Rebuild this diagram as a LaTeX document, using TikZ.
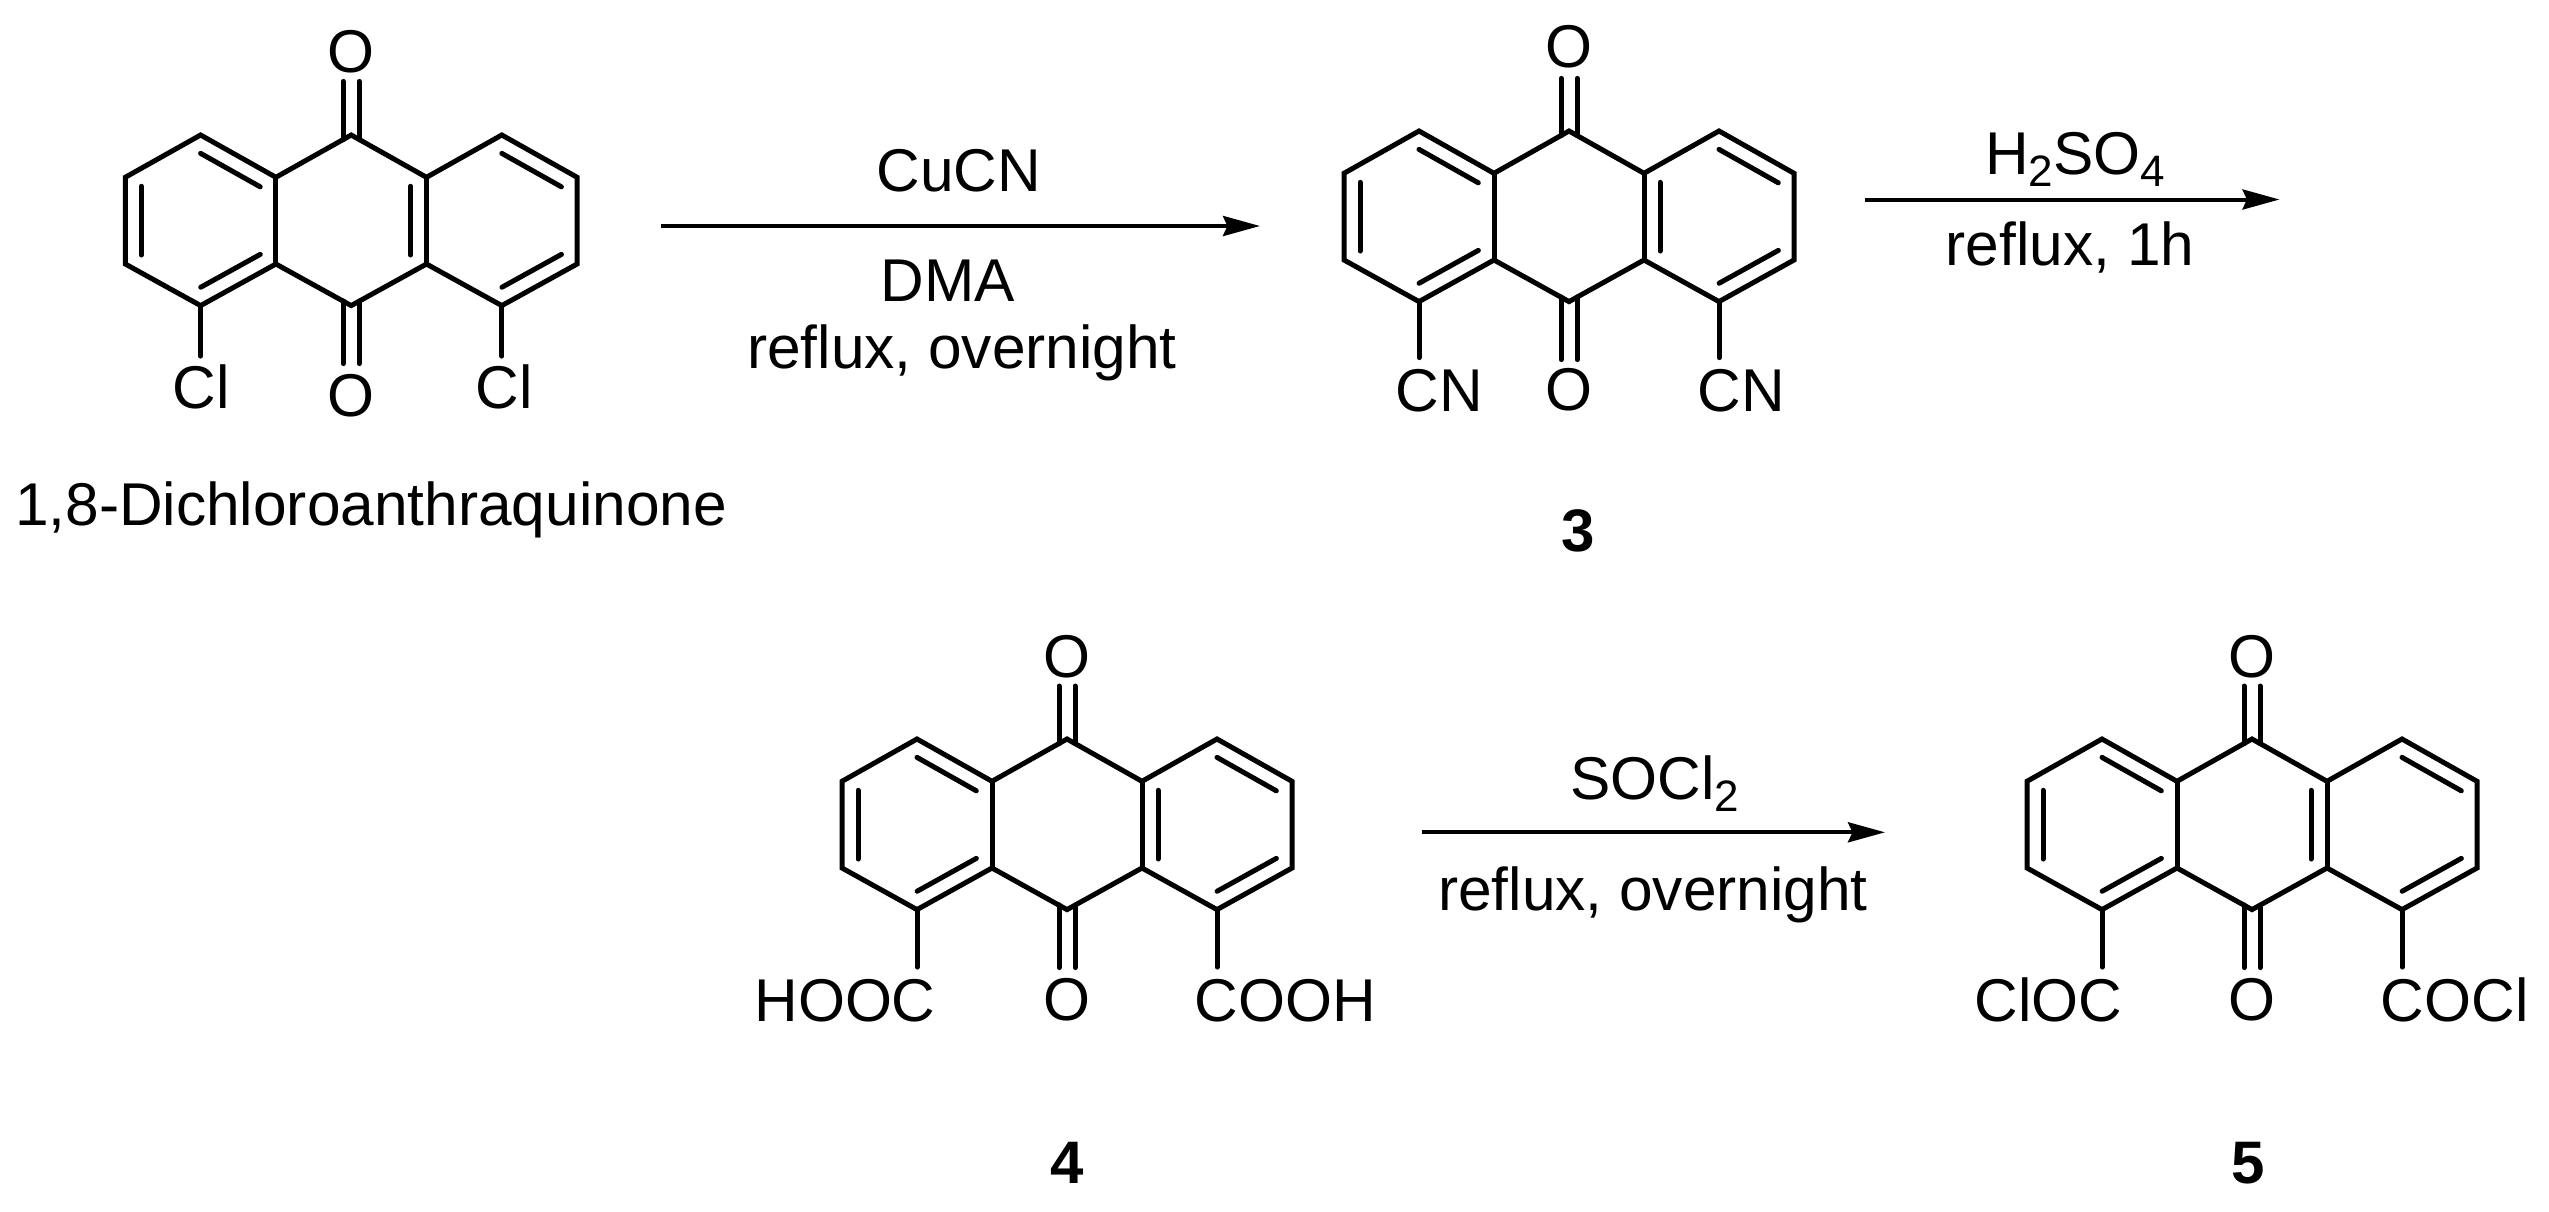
\documentclass[tikz,border=0pt]{standalone}
\usepackage{fontspec}
\setmainfont{Liberation Sans}
\usetikzlibrary{arrows.meta,calc}
\tikzset{
  bond/.style={line width=5pt,line cap=round,black},
  ringb/.style={line width=5pt,line join=miter,black},
  rxn/.style={line width=4pt,black,-{Stealth[length=37pt,width=20pt,inset=4.5pt]}},
  lab/.style={anchor=base,inner sep=0pt,outer sep=0pt,font=\fontsize{60.4}{60}\selectfont,black},
  cmpd/.style={anchor=base,inner sep=0pt,outer sep=0pt,font=\fontsize{60}{60}\selectfont\bfseries,black}
}
\newcommand{\dblb}[2]{\draw[bond] ($(#1)!9pt!(#2)!16pt!-90:(#2)$) -- ($(#2)!9pt!(#1)!16pt!90:(#1)$);}
\newcommand{\subs}[1]{\raisebox{-12.6pt}{\fontsize{44}{44}\selectfont #1}}
% #1 prefix, #2 centre x, #3 top vertex y, #4 half ring width
\newcommand{\anthra}[4]{%
  \coordinate (#1a) at (#2,#3);
  \coordinate (#1b) at (#2,#3+170.6);
  \coordinate (#1j1) at (#2-#4,#3+42.3);
  \coordinate (#1j2) at (#2-#4,#3+129);
  \coordinate (#1k1) at (#2+#4,#3+42.3);
  \coordinate (#1k2) at (#2+#4,#3+129);
  \coordinate (#1l1) at (#2-2*#4,#3);
  \coordinate (#1l2) at (#2-3*#4,#3+42.3);
  \coordinate (#1l3) at (#2-3*#4,#3+129);
  \coordinate (#1l4) at (#2-2*#4,#3+170.6);
  \coordinate (#1r1) at (#2+2*#4,#3);
  \coordinate (#1r2) at (#2+3*#4,#3+42.3);
  \coordinate (#1r3) at (#2+3*#4,#3+129);
  \coordinate (#1r4) at (#2+2*#4,#3+170.6);
  \draw[ringb] (#1a) -- (#1j1) -- (#1l1) -- (#1l2) -- (#1l3) -- (#1l4) -- (#1j2) -- (#1b) -- (#1k2) -- (#1r4) -- (#1r3) -- (#1r2) -- (#1r1) -- (#1k1) -- cycle;
  \draw[ringb] (#1j1) -- (#1j2);
  \draw[ringb] (#1k1) -- (#1k2);
  \dblb{#1l1}{#1j1}\dblb{#1j2}{#1l4}\dblb{#1l3}{#1l2}
  \dblb{#1r1}{#1r2}\dblb{#1r3}{#1r4}
}
% #1 prefix, #2 top length, #3 bottom length, #4 substituent length
\newcommand{\carbonyls}[4]{%
  \draw[bond] ($(#1a)+(-8,4.6)$) -- ($(#1a)+(-8,-#2)$);
  \draw[bond] ($(#1a)+(8,4.6)$) -- ($(#1a)+(8,-#2)$);
  \draw[bond] ($(#1b)+(-8,-4.6)$) -- ($(#1b)+(-8,#3)$);
  \draw[bond] ($(#1b)+(8,-4.6)$) -- ($(#1b)+(8,#3)$);
  \draw[bond] (#1l4) -- ($(#1l4)+(0,#4)$);
  \draw[bond] (#1r4) -- ($(#1r4)+(0,#4)$);
}
\begin{document}
\begin{tikzpicture}[x=1pt,y=-1pt]
\useasboundingbox (0,0) rectangle (2549,1211);
\fill[white] (0,0) rectangle (2549,1211);
% 1,8-dichloroanthraquinone
\anthra{p}{351.2}{135}{75.3}
\dblb{pk1}{pk2}
\carbonyls{p}{53.6}{58}{50.5}
\node[lab] (pOt) at (351.2,72.5) {O};
\node[lab] (pOb) at (351.2,416) {O};
\node[lab] (pCl1) at (201,408.8) {Cl};
\node[lab] (pCl2) at (504,408.8) {Cl};
\node[lab] (pname) at (371,525.5) {1,8-Dichloroanthraquinone};
% 3
\anthra{q}{1569}{131}{75}
\dblb{qk2}{qk1}
\carbonyls{q}{52.6}{58}{56}
\node[lab] (qOt) at (1569,67.8) {O};
\node[lab] (qOb) at (1569,410.7) {O};
\node[lab] (qCN1) at (1439,411.5) {CN};
\node[lab] (qCN2) at (1741,411.5) {CN};
\node[cmpd] (qn) at (1578,551) {3};
% 4
\anthra{s}{1067}{739}{75}
\dblb{sk2}{sk1}
\carbonyls{s}{53}{58}{57.5}
\node[lab] (sOt) at (1067,677.7) {O};
\node[lab] (sOb) at (1067,1020.5) {O};
\node[lab] (sL) at (845,1021) {HOOC};
\node[lab] (sR) at (1285,1021) {COOH};
\node[cmpd] (sn) at (1067,1183.5) {4};
% 5
\anthra{t}{2252}{739}{75}
\dblb{tk1}{tk2}
\carbonyls{t}{53}{58}{57.5}
\node[lab] (tOt) at (2252,677.7) {O};
\node[lab] (tOb) at (2252,1020.5) {O};
\node[lab] (tL) at (2048.5,1021) {ClOC};
\node[lab] (tR) at (2454.7,1021) {COCl};
\node[cmpd] (tn) at (2248.5,1183.5) {5};
% arrows
\coordinate (a1s) at (661,226); \coordinate (a1e) at (1260,226);
\draw[rxn] (a1s) -- (a1e);
\node[lab] (a1t) at (959,191.7) {CuCN};
\node[lab] (a1m) at (948,301.7) {DMA};
\node[lab] (a1b) at (962,368) {reflux, overnight};
\coordinate (a2s) at (1865,199.5); \coordinate (a2e) at (2279.5,199.5);
\draw[rxn] (a2s) -- (a2e);
\node[lab] (a2t) at (2075,174) {H\subs{2}SO\subs{4}};
\node[lab] (a2b) at (2070,265.5) {reflux, 1h};
\coordinate (a3s) at (1422,832.3); \coordinate (a3e) at (1885,832.3);
\draw[rxn] (a3s) -- (a3e);
\node[lab] (a3t) at (1655,799.3) {SOCl\subs{2}};
\node[lab] (a3b) at (1653,910.7) {reflux, overnight};
\end{tikzpicture}
\end{document}
